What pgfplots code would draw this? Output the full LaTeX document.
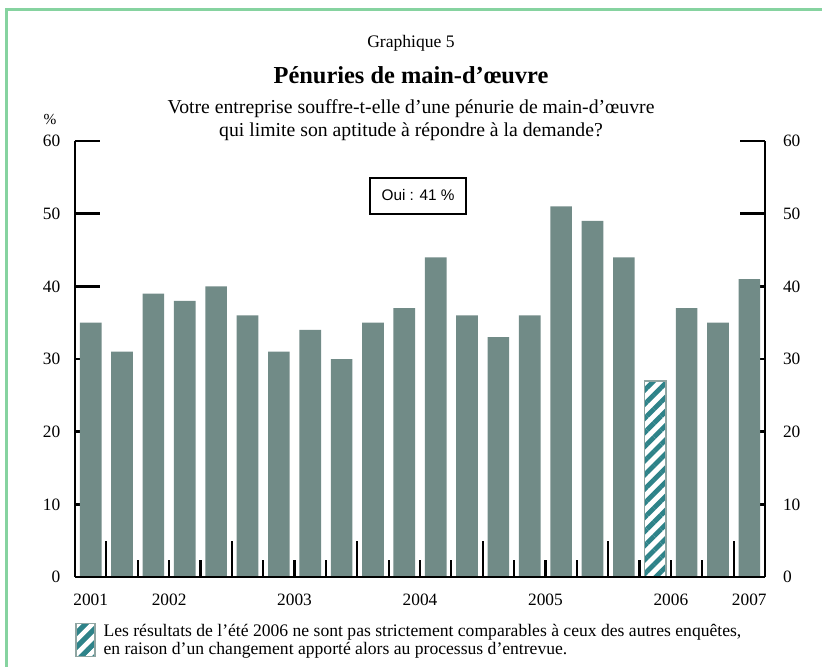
\documentclass[border=0pt]{standalone}
\usepackage{fontspec}
\setmainfont{Liberation Serif}
\newfontfamily\sansf{Liberation Sans}
\usepackage{pgfplots}
\pgfplotsset{compat=1.18}
\usetikzlibrary{patterns.meta}

\definecolor{barfill}{HTML}{718B87}
\definecolor{hatch}{HTML}{2E8389}
\definecolor{framegreen}{HTML}{86D3A0}
\definecolor{edgegray}{HTML}{8FA5A2}

\begin{document}
\begin{tikzpicture}
\useasboundingbox (0,0) rectangle (616.5pt,-500.25pt);
\draw[framegreen, line width=2.3pt] (4.875pt,-500.25pt) -- (4.875pt,-7.125pt) -- (616.5pt,-7.125pt);
\node[font=\fontsize{13.2}{15}\selectfont] at (308.25pt,-32.5pt) {Graphique 5};
\node[font=\bfseries\fontsize{18.3}{20}\selectfont] at (308.25pt,-56.25pt) {Pénuries de main-d’œuvre};
\node[align=center, font=\fontsize{14.8}{17.25}\selectfont] at (308.25pt,-90.2pt) {Votre entreprise souffre-t-elle d’une pénurie de main-d’œuvre\\qui limite son aptitude à répondre à la demande?};
\node[font=\fontsize{11.5}{13}\selectfont] at (37.5pt,-90pt) {\%};

\begin{axis}[
  at={(56.25pt,-432.75pt)}, anchor=south west,
  scale only axis, width=517.5pt, height=327pt,
  xmin=-0.5, xmax=21.5, ymin=0, ymax=60,
  axis x line=bottom, axis y line=box,
  axis line style={-, line width=2.2pt, black},
  ytick={0,10,20,30,40,50,60},
  tick align=inside,
  major tick length=18.75pt,
  ytick style={line width=2pt, black},
  xtick={0,2.5,6.5,10.5,14.5,18.5,21},
  xticklabels={2001,2002,2003,2004,2005,2006,2007},
  xtick style={draw=none},
  ticklabel style={font=\fontsize{13}{15}\selectfont},
  xticklabel style={yshift=-9pt},
  yticklabel style={xshift=-7.5pt},
  /pgf/number format/assume math mode=true,
  clip=false,
  legend style={draw=none, fill=none, at={(0,0)}, anchor=north west, yshift=-33pt,
    inner sep=0pt, nodes={align=left, font=\fontsize{13.2}{13.5}\selectfont, inner xsep=6pt}},
  legend cell align=left,
]
\addplot[ybar, bar width=0.69, bar shift=0pt, fill=barfill, draw=none, forget plot] coordinates {
  (0,35) (1,31) (2,39) (3,38) (4,40) (5,36) (6,31) (7,34) (8,30) (9,35) (10,37)
  (11,44) (12,36) (13,33) (14,36) (15,51) (16,49) (17,44) (19,37) (20,35) (21,41)};
\addplot[ybar, bar width=0.69, bar shift=0pt, fill=white, draw=edgegray, line width=1.2pt,
  postaction={pattern={Lines[angle=45,distance=7.5pt,line width=3.6pt]}, pattern color=hatch},
  legend image code/.code={\draw[fill=white, draw=edgegray, line width=1.2pt,
    postaction={pattern={Lines[angle=45,distance=7.5pt,line width=3.6pt]}, pattern color=hatch}]
    (0pt,-12.4pt) rectangle (14pt,12.4pt);}] coordinates {(18,27)};
\addlegendentry{Les résultats de l’été 2006 ne sont pas strictement comparables à ceux des autres enquêtes,\\en raison d’un changement apporté alors au processus d’entrevue.}
\addplot[ycomb, black, line width=1.6pt, mark=none, forget plot] coordinates {
  (0.5,5) (1.5,2.4) (2.5,2.4) (3.5,2.4) (4.5,5) (5.5,2.4) (6.5,2.4) (7.5,2.4)
  (8.5,5) (9.5,2.4) (10.5,2.4) (11.5,2.4) (12.5,5) (13.5,2.4) (14.5,2.4) (15.5,2.4)
  (16.5,5) (17.5,2.4) (18.5,2.4) (19.5,2.4) (20.5,5)};
\addplot[black, line width=2.2pt, mark=none, forget plot] coordinates {(-0.5,0) (21.5,0)};
\node[draw, line width=1.5pt, fill=white, font=\sansf\fontsize{11.5}{12}\selectfont,
  minimum width=72pt, minimum height=27pt] at (axis cs:10.44,52.5) {Oui : 41 \%};
\end{axis}

\begin{axis}[
  at={(56.25pt,-432.75pt)}, anchor=south west,
  scale only axis, width=517.5pt, height=327pt,
  xmin=-0.5, xmax=21.5, ymin=0, ymax=60,
  axis x line=none, axis y line*=right,
  axis line style={draw=none},
  ytick={0,10,20,30,40,50,60},
  ytick style={draw=none},
  xtick=\empty,
  ticklabel style={font=\fontsize{13}{15}\selectfont},
  yticklabel style={xshift=10pt},
  /pgf/number format/assume math mode=true,
]
\addplot[draw=none] coordinates {(0,0)};
\end{axis}
\end{tikzpicture}
\end{document}
